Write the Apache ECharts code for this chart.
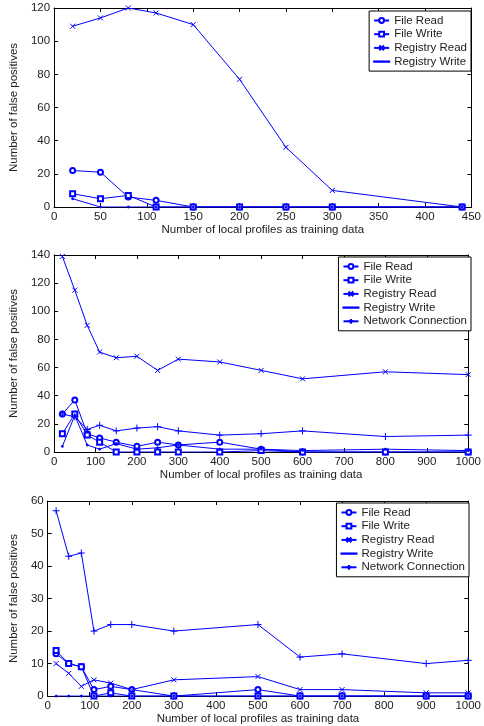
<!DOCTYPE html>
<html><head><meta charset="utf-8">
<script src="https://cdn.jsdelivr.net/npm/echarts@6/dist/echarts.min.js"></script>
<style>html,body{margin:0;padding:0;background:#fff}#c{width:484px;height:726px}</style>
</head><body><div id="c"></div>
<script>
// Panel 1
const x1 = [20,50,80,110,150,200,250,300,440];
const fileRead1 = [22,21,6,4,0,0,0,0,0];
const fileWrite1 = [8,5,7,0,0,0,0,0,0];
const regRead1 = [109,114,120,117,110,77,36,10,0];
const regWrite1 = [5,0,0,0,0,0,0,0,0];
// Panel 2
const x2 = [20,50,80,110,150,200,250,300,400,500,600,800,1000];
const fileRead2 = [27,37,13,10,7,4,7,5,7,2,0,0,0];
const fileWrite2 = [13,27,12,7,0,0,0,0,0,1,0,0,0];
const regRead2 = [139,115,90,71,67,68,58,66,64,58,52,57,55];
const regWrite2 = [4,26,5,2,6,2,3,5,2,2,1,2,1];
const net2 = [27,25,16,19,15,17,18,15,12,13,15,11,12];
// Panel 3
const x3 = [20,50,80,110,150,200,300,500,600,700,900,1000];
const fileRead3 = [13,10,9,2,3,2,0,2,0,0,0,0];
const fileWrite3 = [14,10,9,0,1,0,0,0,0,0,0,0];
const regRead3 = [10,7,3,5,4,2,5,6,2,2,1,1];
const regWrite3 = [0,0,0,0,0,0,0,0,0,0,0,0];
const net3 = [57,43,44,20,22,22,20,22,12,13,10,11];

const xTitle = 'Number of local profiles as training data';
const yTitle = 'Number of false positives';
const names = ['File Read','File Write','Registry Read','Registry Write','Network Connection'];

const BLUE = '#0000ff';
const FONT = 'Liberation Sans';
const FS = 11.5;
const symX = 'path://M0,0L10,10M10,0L0,10';
const symPlus = 'path://M5,0L5,10M0,5L10,5';
const styles = {
  'File Read': {symbol:'emptyCircle', symbolSize:5},
  'File Write': {symbol:'emptyRect', symbolSize:5},
  'Registry Read': {symbol:symX, symbolSize:5},
  'Registry Write': {symbol:'circle', symbolSize:2},
  'Network Connection': {symbol:symPlus, symbolSize:7}
};

const grids = [
  {left:46, right:11, top:8, height:199},
  {left:47, right:11, top:255, height:197},
  {left:42, right:11, top:501, height:198}
];
const xRanges = [[0,450,50],[0,1000,100],[0,1000,100]];
const yRanges = [[0,120,20],[0,140,20],[0,60,10]];

const xAxes = [], yAxes = [];
grids.forEach((g,i)=>{
  const [xmin,xmax,xi] = xRanges[i];
  const [ymin,ymax,yi] = yRanges[i];
  const line = {show:true, onZero:false, lineStyle:{color:'#000', width:1}};
  const tick = {show:true, inside:true, length:4, lineStyle:{color:'#000'}};
  const lab = {color:'#222', fontFamily:FONT, fontSize:FS, margin:4, formatter:v=>String(v)};
  xAxes.push({type:'value', gridIndex:i, position:'bottom', min:xmin, max:xmax, interval:xi,
    axisLine:line, axisTick:tick, splitLine:{show:false}, axisLabel:lab,
    name:xTitle, nameLocation:'middle', nameGap:13,
    nameTextStyle:{color:'#222', fontFamily:FONT, fontSize:FS}});
  xAxes.push({type:'value', gridIndex:i, position:'top', min:xmin, max:xmax, interval:xi,
    axisLine:line, axisTick:tick, splitLine:{show:false}, axisLabel:{show:false}});
  yAxes.push({type:'value', gridIndex:i, position:'left', min:ymin, max:ymax, interval:yi,
    axisLine:line, axisTick:tick, splitLine:{show:false}, axisLabel:lab,
    name:yTitle, nameLocation:'middle', nameGap:22,
    nameTextStyle:{color:'#222', fontFamily:FONT, fontSize:FS}});
  yAxes.push({type:'value', gridIndex:i, position:'right', min:ymin, max:ymax, interval:yi,
    axisLine:line, axisTick:tick, splitLine:{show:false}, axisLabel:{show:false}});
});

const panels = [
  {x:x1, s:{'File Read':fileRead1,'File Write':fileWrite1,'Registry Read':regRead1,'Registry Write':regWrite1}},
  {x:x2, s:{'File Read':fileRead2,'File Write':fileWrite2,'Registry Read':regRead2,'Registry Write':regWrite2,'Network Connection':net2}},
  {x:x3, s:{'File Read':fileRead3,'File Write':fileWrite3,'Registry Read':regRead3,'Registry Write':regWrite3,'Network Connection':net3}}
];

const series = [];
panels.forEach((p,i)=>{
  Object.keys(p.s).forEach(n=>{
    const st = styles[n];
    series.push({
      type:'line', name:n, xAxisIndex:2*i, yAxisIndex:2*i,
      data:p.x.map((xv,k)=>[xv,p.s[n][k]]),
      symbol:st.symbol, symbolSize:st.symbolSize, showSymbol:true,
      lineStyle:{color:BLUE, width:1},
      itemStyle:{color:BLUE, borderColor:BLUE, borderWidth:1},
      animation:false, silent:true
    });
  });
});

const legendItems = names.map(n => n === 'Registry Write'
  ? {name:n, icon:'path://M0,0L30,0L30,0.6L0,0.6Z'}
  : {name:n});

const legendBase = {
  orient:'vertical', backgroundColor:'#fff', borderColor:'#000', borderWidth:1,
  padding:[3,4,3,4], itemGap:0.7, itemWidth:15, itemHeight:6,
  textStyle:{color:'#222', fontFamily:FONT, fontSize:FS, lineHeight:13},
  selectedMode:false
};
const legends = [
  Object.assign({}, legendBase, {right:13, top:11, data:legendItems.slice(0,4)}),
  Object.assign({}, legendBase, {right:13, top:257, data:legendItems}),
  Object.assign({}, legendBase, {right:15, top:503, data:legendItems})
];

const chart = echarts.init(document.getElementById('c'), null, {renderer:'canvas'});
chart.setOption({
  animation:false,
  backgroundColor:'#fff',
  grid:grids,
  xAxis:xAxes, yAxis:yAxes,
  legend:legends,
  series:series
});
</script></body></html>
